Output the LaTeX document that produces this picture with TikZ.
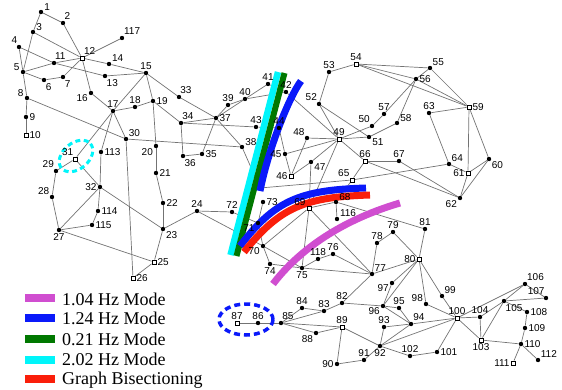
\documentclass[tikz,border=0pt]{standalone}
\usepackage{fontspec}
\setmainfont{Liberation Serif}
\setsansfont{Liberation Sans}
\usetikzlibrary{backgrounds}
\definecolor{edgegray}{RGB}{115,115,115}
\definecolor{cMag}{RGB}{208,78,208}
\definecolor{cBlue}{RGB}{10,25,250}
\definecolor{cGreen}{RGB}{0,120,0}
\definecolor{cCyan}{RGB}{0,245,250}
\definecolor{cRed}{RGB}{250,30,10}
\tikzset{
  dot/.style={circle,fill=black,inner sep=0pt,minimum size=4.4pt},
  sq/.style={rectangle,draw=black,fill=white,line width=0.5pt,inner sep=0pt,minimum size=4.4pt},
  lbl/.style={font=\sffamily\fontsize{10}{10}\selectfont,inner sep=0.6pt},
  edge/.style={draw=edgegray,line width=0.7pt},
  band/.style={line width=7pt},
  legtext/.style={anchor=base west,inner sep=0pt,font=\fontsize{18}{18}\selectfont},
}
\newcommand\Bus[5]{\node[#1,label={[lbl]#5:#2}] (n#2) at (#3,#4) {};}
\begin{document}
\begin{tikzpicture}[x=1pt,y=-1pt,label distance=0.3pt]
\useasboundingbox (0,0) rectangle (562,389);
% buses
\Bus{dot}{1}{41}{12}{20}
\Bus{dot}{2}{63}{23}{70}
\Bus{dot}{3}{33}{32}{20}
\Bus{dot}{4}{19}{47}{110}
\Bus{dot}{5}{23}{72}{170}
\Bus{dot}{6}{44}{80}{-65}
\Bus{dot}{7}{63}{77}{-65}
\Bus{dot}{8}{27}{98}{170}
\Bus{dot}{9}{26}{117}{0}
\Bus{sq}{10}{26}{135}{0}
\Bus{dot}{11}{54}{63}{85}
\Bus{sq}{12}{82}{58}{65}
\Bus{dot}{13}{105}{76}{-70}
\Bus{dot}{14}{109}{64}{30}
\Bus{dot}{15}{146}{73}{90}
\Bus{dot}{16}{91}{93}{200}
\Bus{dot}{17}{113}{111}{90}
\Bus{dot}{18}{135}{107}{90}
\Bus{dot}{19}{153}{101}{0}
\Bus{dot}{20}{156}{146}{210}
\Bus{dot}{21}{156}{173}{0}
\Bus{dot}{22}{163}{203}{0}
\Bus{dot}{23}{163}{229}{-30}
\Bus{dot}{24}{197}{211}{90}
\Bus{sq}{25}{154}{262}{0}
\Bus{sq}{26}{133}{278}{0}
\Bus{dot}{27}{59}{230}{-90}
\Bus{dot}{28}{52}{197}{135}
\Bus{dot}{29}{56}{171}{120}
\Bus{dot}{30}{126}{139}{40}
\Bus{sq}{31}{75}{159}{110}
\Bus{dot}{32}{100}{187}{180}
\Bus{dot}{33}{179}{97}{80}
\Bus{dot}{34}{181}{123}{80}
\Bus{dot}{35}{202}{154}{0}
\Bus{dot}{36}{183}{156}{-75}
\Bus{dot}{37}{216}{118}{0}
\Bus{dot}{38}{242}{147}{15}
\Bus{dot}{39}{228}{105}{90}
\Bus{dot}{40}{245}{99}{90}
\Bus{dot}{41}{268}{84}{90}
\Bus{dot}{42}{286}{92}{90}
\Bus{dot}{43}{256}{127}{90}
\Bus{dot}{44}{279}{128}{90}
\Bus{dot}{45}{285}{154}{180}
\Bus{sq}{46}{291}{176}{180}
\Bus{dot}{47}{311}{162}{-25}
\Bus{dot}{48}{307}{138}{130}
\Bus{sq}{49}{339}{139}{90}
\Bus{dot}{50}{372}{126}{125}
\Bus{dot}{51}{369}{137}{-15}
\Bus{dot}{52}{319}{104}{120}
\Bus{dot}{53}{329}{72}{90}
\Bus{sq}{54}{356}{64}{90}
\Bus{dot}{55}{430}{68}{45}
\Bus{dot}{56}{416}{79}{0}
\Bus{dot}{57}{384}{114}{90}
\Bus{dot}{58}{397}{123}{20}
\Bus{sq}{59}{469}{107}{0}
\Bus{dot}{60}{489}{159}{-40}
\Bus{sq}{61}{468}{173}{180}
\Bus{dot}{62}{460}{198}{210}
\Bus{dot}{63}{429}{113}{90}
\Bus{dot}{64}{449}{164}{45}
\Bus{sq}{65}{352}{180}{125}
\Bus{sq}{66}{365}{161}{90}
\Bus{dot}{67}{399}{161}{90}
\Bus{dot}{68}{336}{202}{15}
\Bus{sq}{69}{309}{208}{150}
\Bus{dot}{70}{263}{246}{200}
\Bus{dot}{71}{258}{223}{190}
\Bus{dot}{72}{232}{212}{90}
\Bus{dot}{73}{263}{202}{0}
\Bus{dot}{74}{270}{264}{-90}
\Bus{dot}{75}{302}{268}{-90}
\Bus{dot}{76}{333}{254}{90}
\Bus{dot}{77}{372}{274}{45}
\Bus{dot}{78}{377}{243}{90}
\Bus{dot}{79}{393}{232}{90}
\Bus{sq}{80}{419}{259}{180}
\Bus{dot}{81}{425}{229}{90}
\Bus{dot}{82}{342}{303}{90}
\Bus{dot}{83}{324}{311}{90}
\Bus{dot}{84}{302}{308}{90}
\Bus{dot}{85}{281}{323}{80}
\Bus{dot}{86}{258}{323}{90}
\Bus{sq}{87}{237}{323}{90}
\Bus{dot}{88}{316}{333}{215}
\Bus{sq}{89}{342}{327}{90}
\Bus{dot}{90}{337}{364}{180}
\Bus{dot}{91}{364}{360}{90}
\Bus{dot}{92}{380}{346}{-90}
\Bus{dot}{93}{384}{327}{90}
\Bus{dot}{94}{411}{324}{55}
\Bus{dot}{95}{399}{308}{90}
\Bus{dot}{96}{383}{306}{205}
\Bus{dot}{97}{392}{283}{205}
\Bus{dot}{98}{426}{304}{150}
\Bus{dot}{99}{442}{296}{50}
\Bus{sq}{100}{457}{318}{90}
\Bus{dot}{101}{437}{352}{0}
\Bus{dot}{102}{410}{356}{90}
\Bus{sq}{103}{481}{340}{-90}
\Bus{dot}{104}{480}{317}{90}
\Bus{dot}{105}{504}{301}{-70}
\Bus{dot}{106}{525}{284}{60}
\Bus{dot}{107}{546}{298}{105}
\Bus{dot}{108}{527}{312}{0}
\Bus{dot}{109}{525}{328}{0}
\Bus{dot}{110}{521}{344}{0}
\Bus{sq}{111}{513}{363}{180}
\Bus{dot}{112}{538}{360}{40}
\Bus{dot}{113}{101}{152}{0}
\Bus{dot}{114}{98}{211}{0}
\Bus{dot}{115}{92}{225}{0}
\Bus{dot}{116}{337}{219}{35}
\Bus{dot}{117}{122}{38}{60}
\Bus{dot}{118}{318}{259}{90}
\coordinate (b3865) at (260,188);
\begin{pgfonlayer}{background}
\foreach \a/\b in {1/2,1/3,4/5,3/5,5/6,6/7,8/9,5/8,9/10,4/11,5/11,11/12,2/12,3/12,7/12,11/13,12/14,13/15,14/15,12/16,15/17,16/17,17/18,18/19,19/20,15/19,20/21,21/22,22/23,23/24,23/25,25/26,25/27,27/28,28/29,17/30,8/30,26/30,17/31,29/31,23/32,31/32,27/32,15/33,19/34,35/36,35/37,33/37,34/36,34/37,37/38,37/39,37/40,30/38,39/40,40/41,40/42,41/42,43/44,34/43,44/45,45/46,46/47,46/48,47/49,42/49,45/49,48/49,49/50,49/51,51/52,52/53,53/54,49/52,54/55,54/56,55/56,56/57,50/57,56/58,51/58,54/59,56/59,55/59,59/60,59/61,60/61,60/62,61/62,59/63,63/64,61/64,64/65,49/66,62/66,62/67,65/66,66/67,65/68,47/69,49/69,68/69,69/70,24/70,70/71,24/72,71/72,71/73,70/74,70/75,69/75,74/75,76/77,69/77,75/77,77/78,78/79,77/80,79/80,68/81,80/81,77/82,82/83,83/84,83/85,84/85,85/86,86/87,85/88,85/89,88/89,89/90,90/91,89/92,91/92,92/93,92/94,93/94,94/95,80/96,82/96,94/96,80/97,80/98,80/99,92/100,94/100,95/96,96/97,98/100,99/100,100/101,92/102,101/102,100/103,100/104,103/104,103/105,100/106,104/105,105/106,105/107,105/108,106/107,108/109,103/110,109/110,110/111,110/112,17/113,32/113,32/114,27/115,114/115,68/116,12/117,75/118,76/118}
  \draw[edge] (n\a) -- (n\b);
\draw[edge] (n38) -- (b3865) -- (n65);
% mode cut lines
\draw[band,cCyan,line width=6.5pt] (278,72) -- (230.5,255);
\draw[band,cGreen,line width=6pt] (284.5,73) -- (236.5,256);
\draw[band,cBlue] (301,81) .. controls (289,97) and (268,150) .. (260,191);
\draw[band,cBlue] (240,246) .. controls (275,200) and (300,190) .. (366,188);
\draw[band,cRed] (244,252) .. controls (280,207) and (305,197) .. (370,195);
\draw[band,cMag] (273,284) .. controls (295,255) and (335,222) .. (400,203);
\draw[cCyan,line width=3pt,dash pattern=on 5pt off 3.5pt,rotate around={40:(76,156)}] (76,156) ellipse [x radius=19,y radius=13];
\draw[cBlue,line width=3.5pt,dash pattern=on 6pt off 4pt] (246,319.5) ellipse [x radius=27,y radius=15.5];
\end{pgfonlayer}
% legend
\draw[line width=8.5pt,cMag] (25,298) -- (55,298);
\draw[line width=8.5pt,cBlue] (25,318) -- (55,318);
\draw[line width=8.5pt,cGreen] (25,339) -- (55,339);
\draw[line width=8.5pt,cCyan] (25,360) -- (55,360);
\draw[line width=8.5pt,cRed] (25,379) -- (55,379);
\node[legtext] (l1) at (62,305) {1.04 Hz Mode};
\node[legtext] (l2) at (62,324.5) {1.24 Hz Mode};
\node[legtext] (l3) at (62,345) {0.21 Hz Mode};
\node[legtext] (l4) at (62,365.5) {2.02 Hz Mode};
\node[legtext] (l5) at (62,384) {Graph Bisectioning};
\end{tikzpicture}
\end{document}
